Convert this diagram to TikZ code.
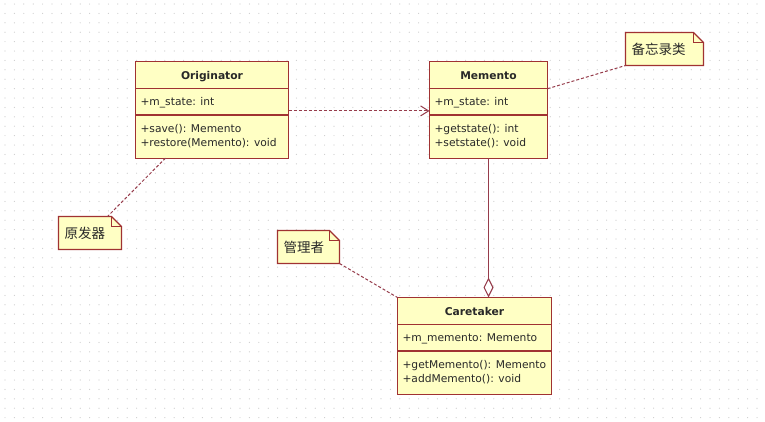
\documentclass[tikz,border=0pt]{standalone}
\usepackage{fontspec}
\setmainfont{DejaVu Sans}
\newfontfamily\cjk{Noto Sans CJK SC}
\usetikzlibrary{calc, positioning, shapes.multipart, arrows.meta}

\definecolor{umlfill}{RGB}{255,255,196}
\definecolor{umlborder}{RGB}{160,50,50}
\definecolor{umlline}{RGB}{150,60,75}
\definecolor{griddot}{RGB}{205,205,205}
\definecolor{umltext}{RGB}{40,40,40}

\newcommand{\titlestrut}{\rule[-9pt]{0pt}{26pt}}
\newcommand{\attrstrut}{\rule[-9pt]{0pt}{25pt}}
\newcommand{\firststrut}{\rule{0pt}{17pt}}
\newcommand{\laststrut}{\rule[-11pt]{0pt}{11pt}}
% note outline with folded corner
\newcommand{\drawnote}[1]{%
  \draw[umlborder, fill=umlfill, line width=1.2pt] (#1.south west) -- (#1.north west)
    -- ($(#1.north east)+(-10,0)$) -- ($(#1.north east)+(0,10)$) -- (#1.south east) -- cycle;
  \draw[umlborder, line width=1.2pt] ($(#1.north east)+(-10,0)$) -- ($(#1.north east)+(-10,10)$)
    -- ($(#1.north east)+(0,10)$);}

\tikzset{
  umlclass/.style={rectangle split, rectangle split parts=3, draw=umlborder, fill=umlfill,
    line width=1.2pt, anchor=north west, outer sep=0pt, inner xsep=5pt, inner ysep=0pt,
    text=umltext, rectangle split part align={center,left,left},
    font=\fontsize{10.7}{14}\selectfont},
  umlnote/.style={anchor=north west, minimum height=33pt, inner xsep=6pt, inner ysep=0pt,
    outer sep=0pt, align=left, text=umltext, font=\cjk\fontsize{13.5}{15}\selectfont},
  notelink/.style={draw=umlline, dash pattern=on 3pt off 2pt, line width=1pt},
}

\begin{document}
\begin{tikzpicture}[x=1pt, y=-1pt, >={Straight Barb[length=8pt, width=10pt]}]
  \useasboundingbox[fill=white] (0,0) rectangle (765,421);
  \foreach \i in {0,...,81}
    \foreach \j in {0,...,44}
      \fill[griddot] (5+\i*9.4, 4+\j*9.4) circle [radius=0.6];

  % classes
  \node[umlclass, minimum width=153pt] (originator) at (135.5,61.5)
    {\titlestrut\textbf{Originator}
     \nodepart{two}\attrstrut+m\_state: int
     \nodepart{three}\begin{tabular}{@{}l@{}}\firststrut+save(): Memento\\
       +restore(Memento): void\laststrut\end{tabular}};
  \node[umlclass, minimum width=118pt] (memento) at (429.5,61.5)
    {\titlestrut\textbf{Memento}
     \nodepart{two}\attrstrut+m\_state: int
     \nodepart{three}\begin{tabular}{@{}l@{}}\firststrut+getstate(): int\\
       +setstate(): void\laststrut\end{tabular}};
  \node[umlclass, minimum width=154pt] (caretaker) at (397.5,297.5)
    {\titlestrut\textbf{Caretaker}
     \nodepart{two}\attrstrut+m\_memento: Memento
     \nodepart{three}\begin{tabular}{@{}l@{}}\firststrut+getMemento(): Memento\\
       +addMemento(): void\laststrut\end{tabular}};

  % notes
  \node[umlnote, text width=51pt] (orignote) at (58.5,216.5) {};
  \node[umlnote, text width=66pt] (mementonote) at (625.5,32.5) {};
  \node[umlnote, text width=50pt] (keepernote) at (277.5,230.5) {};
  \drawnote{orignote}
  \drawnote{mementonote}
  \drawnote{keepernote}
  \node[umlnote, text width=51pt] at (58.5,216.5) {原发器};
  \node[umlnote, text width=66pt] at (625.5,32.5) {备忘录类};
  \node[umlnote, text width=50pt] at (277.5,230.5) {管理者};

  % connectors
  \draw[notelink, ->] ($(originator.two split east)+(0,-4)$) coordinate (dep)
    -- (dep -| memento.west);
  \draw[umlline, line width=1.1pt, -{Diamond[open, fill=white, length=20pt, width=10pt]}]
    (memento.south) -- (memento.south |- caretaker.north);
  \draw[notelink] (memento.one split east) -- (mementonote.south west);
  \draw[notelink] ($(originator.south west)+(30,0)$) -- ($(orignote.north east)+(-14,0)$);
  \draw[notelink] (keepernote.south east) -- (caretaker.north west);
\end{tikzpicture}
\end{document}
